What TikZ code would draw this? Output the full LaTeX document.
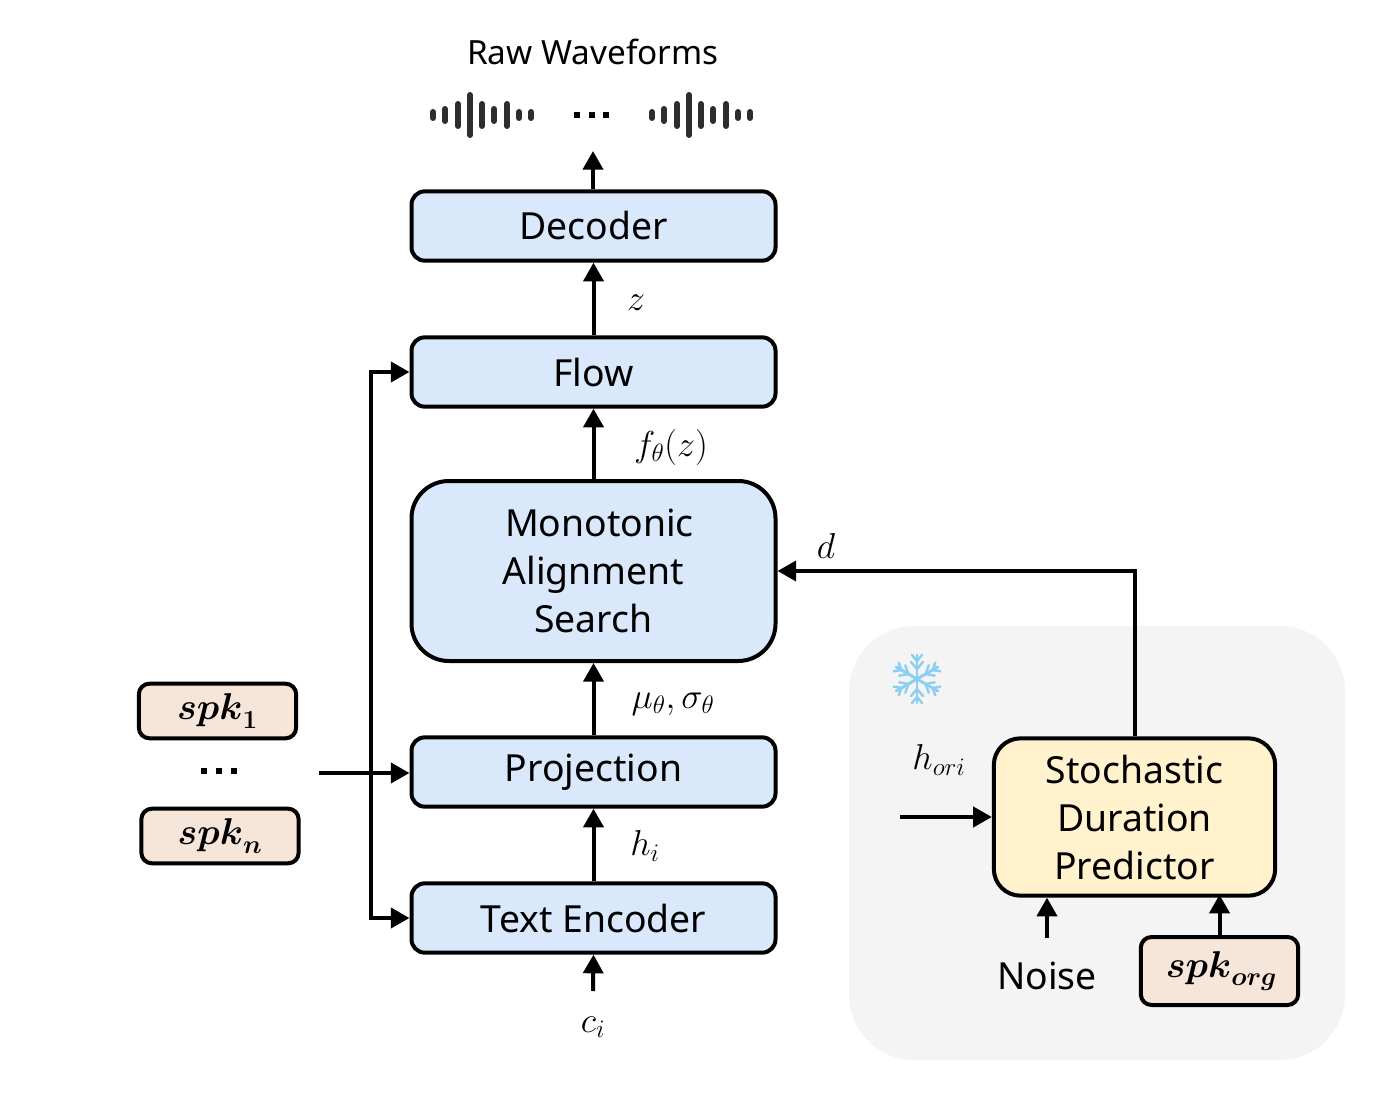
\RequirePackage{fix-cm}
\documentclass[tikz,border=0pt]{standalone}
\usepackage{amsmath}
\usepackage[no-math]{fontspec}
\setmainfont{Noto Sans}
\usetikzlibrary{arrows.meta,calc}
\definecolor{boxblue}{HTML}{DAE8FC}
\definecolor{boxyellow}{HTML}{FFF2CC}
\definecolor{boxpeach}{HTML}{F6E6DA}
\definecolor{panelgrey}{HTML}{F4F4F4}
\definecolor{wavegrey}{HTML}{2E2E2E}
\definecolor{snowblue}{HTML}{8CCFF0}
\tikzset{
  px/.style={x=0.75pt,y=-0.75pt},
  basebox/.style={draw=black,line width=3pt,inner sep=0pt,align=center,font=\fontsize{28}{36}\selectfont},
  mainbox/.style={basebox,fill=boxblue,rounded corners=10pt,minimum width=273pt,minimum height=52pt},
  spkbox/.style={basebox,fill=boxpeach,rounded corners=8pt,minimum width=118pt,minimum height=41pt},
  link/.style={line width=3pt,-{Triangle[length=14pt,width=15pt]}},
  plainlink/.style={line width=3pt},
  mathlabel/.style={inner sep=0pt,font=\fontsize{27}{32}\selectfont},
  plaintext/.style={inner sep=0pt,font=\fontsize{28}{36}\selectfont},
  wavebar/.style={line width=4.5pt,line cap=round,wavegrey},
  dotmark/.style={fill=black,minimum size=3.8pt,inner sep=0pt,draw=none},
  snowarm/.style={line width=2.2pt,snowblue,line cap=round},
}
\begin{document}
\begin{tikzpicture}[px]
\useasboundingbox (0,0) rectangle (1392,1098);
\fill[white] (0,0) rectangle (1392,1098);
% grey panel
\fill[panelgrey,rounded corners=49pt] (849,626) rectangle (1345,1060);
% snowflake
\begin{scope}[shift={(917,679)}]
\foreach \a in {30,90,150,210,270,330}{
  \begin{scope}[rotate=\a]
    \draw[snowarm] (0,0) -- (24,0);
    \draw[snowarm,line width=1.8pt] (10,0) -- (17,-6) (10,0) -- (17,6);
    \draw[snowarm,line width=1.8pt] (18,0) -- (24,-5) (18,0) -- (24,5);
  \end{scope}
}
\end{scope}
% main boxes
\node[mainbox] (dec) at (593.5,226) {Decoder};
\node[mainbox] (flow) at (593.5,372) {Flow};
\node[mainbox,rounded corners=28pt,minimum height=135pt] (mas) at (593.5,571) {\hspace*{9pt}Monotonic\\Alignment\\Search};
\node[mainbox] (proj) at (593.5,772) {Projection};
\node[mainbox] (te) at (593.5,918) {Text Encoder};
% speakers
\node[spkbox] (spka) at (217.5,711) {$\boldsymbol{spk}_{\mathbf{1}}$};
\node[spkbox] (spkb) at (220,836) {$\boldsymbol{spk}_{\boldsymbol{n}}$};
\node[spkbox,minimum height=51pt] (spkc) at (1219.5,971) {\hspace*{3pt}$\boldsymbol{spk}_{\boldsymbol{org}}$};
% predictor
\node[basebox,fill=boxyellow,rounded corners=20pt,minimum width=211pt,minimum height=118pt] (sdp) at (1134.5,817) {Stochastic\\Duration\\Predictor};
% free ends
\coordinate (top) at (593,151);
\coordinate (cin) at (593,991);
\coordinate (spkin) at (319,773);
\coordinate (busx) at (371,772);
\coordinate (hin) at (900,817);
\coordinate (noisein) at (1047,938);
% connectors
\draw[link] (dec.north -| top) -- (top);
\draw[link] (flow.north) -- (dec.south);
\draw[link] (mas.north) -- (flow.south);
\draw[link] (proj.north) -- (mas.south);
\draw[link] (te.north) -- (proj.south);
\draw[link] (cin) -- (te.south);
\draw[link] (spkin) -- (spkin -| proj.west);
\draw[link] (busx) |- (flow.west);
\draw[link] (busx) |- (te.west);
\draw[link] (sdp.north) |- (mas.east);
\draw[link] (hin) -- (sdp.west);
\draw[link] (noisein) -- (noisein |- sdp.south);
\draw[link] (spkc.north) -- ($(sdp.south -| spkc.north)+(0,-3)$);
% labels
\node[plaintext,font=\fontsize{25}{30}\selectfont] (title) at (593,52) {Raw Waveforms};
\node[mathlabel] (lz) at (636,303) {$z$};
\node[mathlabel] (lf) at (671,447) {$f_\theta(z)$};
\node[mathlabel] (ld) at (826,546) {$d$};
\node[mathlabel] (lm) at (673,704) {$\mu_\theta,\sigma_\theta$};
\node[mathlabel] (lh) at (645,846) {$h_i$};
\node[mathlabel] (lc) at (593,1027) {$c_i$};
\node[mathlabel] (lo) at (939,760) {$h_{ori}$};
\node[plaintext] (noise) at (1047,976) {Noise};
% dots
\foreach \x in {577,592,606}{\node[dotmark] at (\x,115) {};}
\foreach \x in {204,219,234}{\node[dotmark] at (\x,771) {};}
% waveforms
\foreach \dx in {0,219}{
  \begin{scope}[xshift=\dx*0.75pt]
  \foreach \x/\h in {433/3,445/6,458/11,470/20,482/11,494/6,507/11,519/3,531/3}{
    \draw[wavebar] (\x,115-\h) -- (\x,115+\h);
  }
  \end{scope}
}
\end{tikzpicture}
\end{document}
